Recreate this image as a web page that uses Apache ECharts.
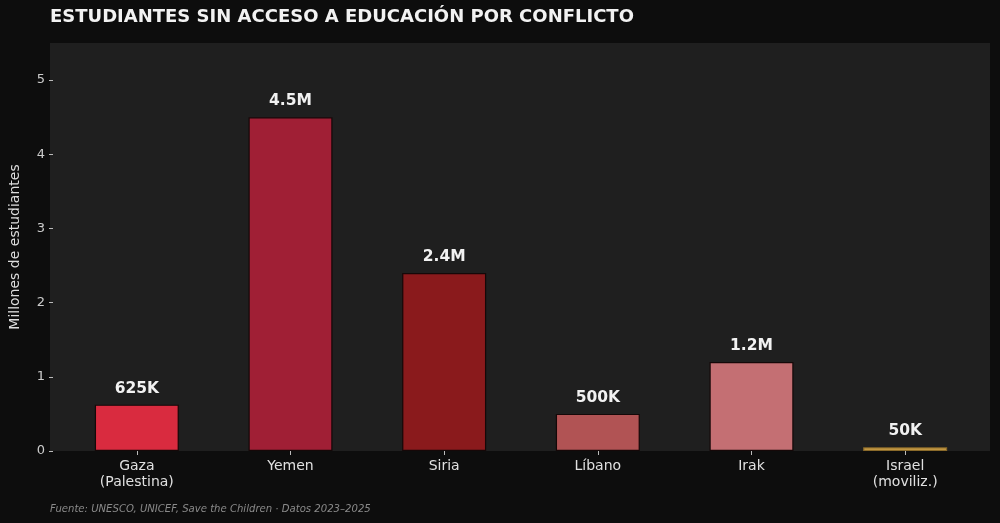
<!DOCTYPE html>
<html>
<head>
<meta charset="utf-8">
<script src="https://cdn.jsdelivr.net/npm/echarts@6/dist/echarts.min.js"></script>
<style>
  html, body { margin: 0; padding: 0; background: #0d0d0d; }
  #chart { width: 1000px; height: 523px; }
</style>
</head>
<body>
<div id="chart"></div>
<script>
var categories = ['Gaza\n(Palestina)', 'Yemen', 'Siria', 'Líbano', 'Irak', 'Israel\n(moviliz.)'];
var values = [0.625, 4.5, 2.4, 0.5, 1.2, 0.05]; // millones
var valueLabels = ['625K', '4.5M', '2.4M', '500K', '1.2M', '50K'];
var barColors = ['#d92b3f', '#a01f35', '#8a1a1c', '#b15354', '#c46f73', '#d4a64a'];
var yTicks = [0, 1, 2, 3, 4, 5];

var myChart = echarts.init(document.getElementById('chart'));

var font = 'DejaVu Sans';

var option = {
  backgroundColor: '#0d0d0d',
  textStyle: { fontFamily: font },
  title: [{
    text: 'ESTUDIANTES SIN ACCESO A EDUCACIÓN POR CONFLICTO',
    left: 50,
    top: 8,
    padding: 0,
    textStyle: { color: '#f2f2f2', fontSize: 18, fontWeight: 'bold', fontFamily: font }
  }, {
    text: 'Fuente: UNESCO, UNICEF, Save the Children · Datos 2023–2025',
    left: 50,
    top: 504,
    padding: 0,
    textStyle: { color: '#8a8a8a', fontSize: 10.1, fontStyle: 'italic', fontWeight: 'normal', fontFamily: font }
  }],
  // fondo del área de trazado
  graphic: [{
    type: 'rect',
    z: -10,
    shape: { x: 50, y: 43, width: 940, height: 408 },
    style: { fill: '#1f1f1f' }
  }],
  grid: {
    left: 57,
    right: 18,
    top: 43,
    bottom: 72
  },
  xAxis: {
    type: 'category',
    data: categories,
    axisLine: { show: false },
    axisTick: { show: true, alignWithLabel: true, length: 4, lineStyle: { color: '#bbbbbb' } },
    axisLabel: { color: '#e0e0e0', fontSize: 14, lineHeight: 16, margin: 7, fontFamily: font }
  },
  yAxis: {
    type: 'value',
    min: 0,
    max: 5.5,
    interval: 1,
    offset: 7,
    name: 'Millones de estudiantes',
    nameLocation: 'middle',
    nameGap: 31,
    nameTextStyle: { color: '#dddddd', fontSize: 14, fontFamily: font },
    axisLine: { show: false },
    axisTick: { show: true, length: 4, customValues: yTicks, lineStyle: { color: '#bbbbbb' } },
    splitLine: { show: false },
    axisLabel: {
      color: '#cccccc',
      fontSize: 13,
      margin: 8,
      fontFamily: font,
      customValues: yTicks
    }
  },
  series: [{
    type: 'bar',
    barWidth: 84,
    data: values.map(function(v, i) {
      return {
        value: v,
        itemStyle: { color: barColors[i], borderColor: i === 5 ? '#8a6a2a' : '#150808', borderWidth: 1.2 }
      };
    }),
    label: {
      show: true,
      position: 'top',
      distance: 8,
      color: '#f2f2f2',
      fontSize: 15.5,
      fontWeight: 'bold',
      fontFamily: font,
      formatter: function(p) { return valueLabels[p.dataIndex]; }
    }
  }]
};

myChart.setOption(option);
</script>
</body>
</html>
